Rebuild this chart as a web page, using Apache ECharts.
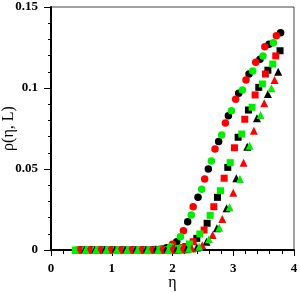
<!DOCTYPE html>
<html><head><meta charset="utf-8">
<script src="https://cdn.jsdelivr.net/npm/echarts@6/dist/echarts.min.js"></script>
<style>html,body{margin:0;padding:0;background:#fff}#c{width:300px;height:293px}</style>
</head><body><div id="c"></div>
<script>
// tick labels
const xTicks = [0, 1, 2, 3, 4];
const yTicks = [0, 0.05, 0.1, 0.15];

// circles
const blackCircleEta = [0.52,0.69,0.87,1.04,1.21,1.38,1.55,1.72,1.90,2.07,2.25,2.42,2.59,2.76,2.92,3.09,3.26,3.44,3.59,3.78];
const blackCircleRho = [0,0,0,0,0,0,0,0.0003,0.0014,0.0051,0.0175,0.0325,0.050,0.067,0.0829,0.0967,0.1086,0.1177,0.127,0.1341];
const redCircleEta = [0.47,0.64,0.81,0.98,1.15,1.32,1.49,1.66,1.83,2.00,2.18,2.34,2.53,2.70,2.87,3.04,3.21,3.37,3.52,3.71];
const redCircleRho = [0,0,0,0,0,0,0,0.0001,0.0008,0.0035,0.0119,0.0267,0.0438,0.0623,0.0784,0.093,0.1049,0.1159,0.1255,0.1323];
const greenCircleEta = [0.44,0.61,0.78,0.95,1.12,1.29,1.46,1.63,1.80,1.97,2.13,2.31,2.48,2.64,2.81,2.97,3.15,3.32,3.49,3.66];
const greenCircleRho = [0,0,0,0,0,0,0,0,0.0006,0.002,0.0082,0.0216,0.0375,0.0549,0.071,0.086,0.0988,0.1105,0.1198,0.128];

// squares
const blackSquareEta = [0.52,0.69,0.86,1.03,1.20,1.37,1.54,1.71,1.88,2.05,2.22,2.40,2.57,2.74,2.91,3.08,3.25,3.42,3.57,3.77];
const blackSquareRho = [0,0,0,0,0,0,0,0,0,0.0006,0.002,0.0072,0.0165,0.0325,0.051,0.0696,0.0864,0.1004,0.111,0.123];
const redSquareEta = [0.47,0.64,0.81,0.98,1.15,1.32,1.49,1.66,1.83,2.00,2.17,2.34,2.52,2.68,2.85,3.02,3.19,3.36,3.53,3.70];
const redSquareRho = [0,0,0,0,0,0,0,0,0.0001,0.0004,0.0015,0.0051,0.0123,0.0267,0.0443,0.0631,0.0807,0.0957,0.1086,0.1198];
const greenSquareEta = [0.40,0.57,0.74,0.91,1.08,1.25,1.42,1.59,1.76,1.93,2.10,2.28,2.45,2.62,2.79,2.95,3.14,3.31,3.48,3.65];
const greenSquareRho = [0,0,0,0,0,0,0,0,0,0.0003,0.001,0.0037,0.0099,0.0214,0.0366,0.0539,0.0716,0.0881,0.1025,0.1148];

// triangles
const blackTriangleEta = [0.55,0.72,0.88,1.05,1.22,1.39,1.56,1.72,1.89,2.06,2.23,2.40,2.56,2.73,2.89,3.05,3.23,3.39,3.57,3.74];
const blackTriangleRho = [0,0,0,0,0,0,0,0,0,0,0.0004,0.0015,0.0051,0.0134,0.0257,0.0443,0.0638,0.0813,0.0963,0.110];
const redTriangleEta = [0.45,0.62,0.79,0.96,1.13,1.30,1.47,1.64,1.81,1.98,2.15,2.32,2.49,2.66,2.82,3.00,3.17,3.34,3.51,3.68];
const redTriangleRho = [0,0,0,0,0,0,0,0,0,0,0.0003,0.0009,0.003,0.0093,0.0191,0.0354,0.0539,0.0736,0.0906,0.105];
const greenTriangleEta = [0.40,0.57,0.74,0.91,1.08,1.25,1.42,1.59,1.76,1.93,2.10,2.27,2.44,2.60,2.77,2.94,3.11,3.27,3.45,3.63];
const greenTriangleRho = [0,0,0,0,0,0,0,0,0,0,0.0002,0.0007,0.002,0.0066,0.0138,0.0264,0.0438,0.0644,0.0833,0.0998];

const BLACK = '#000000', RED = '#ff0000', GREEN = '#00ee00';
const zip = (a, b) => a.map((v, i) => [v, b[i]]);
const mk = (eta, rho, color, symbol, size) => ({
  type: 'scatter', data: zip(eta, rho), symbol: symbol, symbolSize: size,
  itemStyle: { color: color, opacity: 1 }, silent: true, animation: false
});
const series = [
  mk(blackCircleEta, blackCircleRho, BLACK, 'circle', 7.5),
  mk(redCircleEta, redCircleRho, RED, 'circle', 7.5),
  mk(greenCircleEta, greenCircleRho, GREEN, 'circle', 7.5),
  mk(blackSquareEta, blackSquareRho, BLACK, 'rect', 7),
  mk(redSquareEta, redSquareRho, RED, 'rect', 7),
  mk(greenSquareEta, greenSquareRho, GREEN, 'rect', 7),
  mk(blackTriangleEta, blackTriangleRho, BLACK, 'triangle', 8),
  mk(redTriangleEta, redTriangleRho, RED, 'triangle', 8),
  mk(greenTriangleEta, greenTriangleRho, GREEN, 'triangle', 8)
];
const labelStyle = { fontFamily: 'Liberation Serif', fontWeight: 'bold', fontSize: 13, color: '#000' };
const chart = echarts.init(document.getElementById('c'), null, { renderer: 'canvas' });
chart.setOption({
  animation: false,
  grid: { left: 51, right: 6, top: 7, bottom: 43, show: true, borderColor: '#444', borderWidth: 1,
          containLabel: false, outerBoundsMode: 'none' },
  xAxis: {
    type: 'value', min: xTicks[0], max: xTicks[xTicks.length - 1], interval: 1,
    name: 'η', nameLocation: 'middle', nameGap: 25, nameMoveOverlap: false,
    nameTextStyle: { fontFamily: 'Liberation Serif', fontSize: 16, color: '#000' },
    axisLine: { show: true, onZero: false, lineStyle: { color: '#000', width: 2 } },
    axisTick: { show: true, inside: false, length: 6, lineStyle: { color: '#000', width: 1 } },
    minorTick: { show: true, splitNumber: 5, length: 4, lineStyle: { color: '#000', width: 1 } },
    splitLine: { show: false },
    axisLabel: Object.assign({ margin: 12, formatter: v => xTicks.includes(v) ? String(v) : '' }, labelStyle)
  },
  yAxis: {
    type: 'value', min: yTicks[0], max: yTicks[yTicks.length - 1], interval: 0.05,
    name: 'ρ(η, L)', nameLocation: 'middle', nameGap: 34, nameMoveOverlap: false,
    nameTextStyle: { fontFamily: 'Liberation Serif', fontSize: 16, color: '#000' },
    axisLine: { show: true, onZero: false, lineStyle: { color: '#000', width: 2 } },
    axisTick: { show: true, inside: false, length: 7, lineStyle: { color: '#000', width: 1 } },
    minorTick: { show: true, splitNumber: 5, length: 3, lineStyle: { color: '#000', width: 1 } },
    splitLine: { show: false },
    axisLabel: Object.assign({ margin: 13, formatter: v => { const t = yTicks.find(k => Math.abs(k - v) < 1e-9); return t === undefined ? '' : String(t); } }, labelStyle)
  },
  series: series
});
</script>
</body></html>
